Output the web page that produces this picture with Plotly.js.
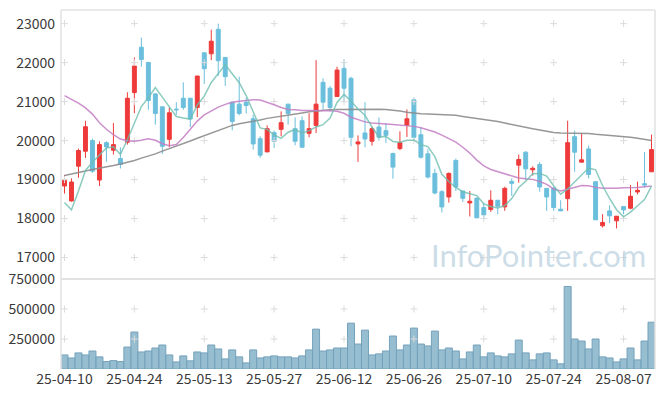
<!DOCTYPE html>
<html><head><meta charset="utf-8">
<script src="https://cdn.plot.ly/plotly-3.0.1.min.js"></script>
<style>html,body{margin:0;padding:0;background:#fff;}#chart{width:665px;height:396px;}</style>
</head><body><div id="chart"></div>
<script>
const dates = ['25-04-10','25-04-11','25-04-14','25-04-15','25-04-16','25-04-17','25-04-18','25-04-21','25-04-22','25-04-23',
'25-04-24','25-04-25','25-04-28','25-04-29','25-04-30','25-05-02','25-05-07','25-05-08','25-05-09','25-05-12',
'25-05-13','25-05-14','25-05-15','25-05-16','25-05-19','25-05-20','25-05-21','25-05-22','25-05-23','25-05-26',
'25-05-27','25-05-28','25-05-29','25-05-30','25-06-02','25-06-04','25-06-05','25-06-09','25-06-10','25-06-11',
'25-06-12','25-06-13','25-06-16','25-06-17','25-06-18','25-06-19','25-06-20','25-06-23','25-06-24','25-06-25',
'25-06-26','25-06-27','25-06-30','25-07-01','25-07-02','25-07-03','25-07-04','25-07-07','25-07-08','25-07-09',
'25-07-10','25-07-11','25-07-14','25-07-15','25-07-16','25-07-17','25-07-18','25-07-21','25-07-22','25-07-23',
'25-07-24','25-07-25','25-07-28','25-07-29','25-07-30','25-07-31','25-08-01','25-08-04','25-08-05','25-08-06',
'25-08-07','25-08-08','25-08-11','25-08-12','25-08-13'];

const openP = [18835,18452,19345,19727,20000,18988,19948,19753,19540,19957,
21232,22396,22005,21198,20866,20033,20807,21087,21087,20850,
22252,22227,22855,22133,20985,20935,20985,20560,20050,19710,
20204,20289,20935,20306,20510,20186,20390,21495,21343,21130,
21852,21597,19915,20195,19983,20348,20255,19668,19796,20390,
21045,20152,19660,19158,18690,18555,19490,18707,18401,18520,
18282,18231,18470,18299,18954,19370,19702,19250,19387,18775,
18775,18240,18512,20101,19447,19787,18946,17815,18197,17942,
18308,18265,18682,18895,19200];
const highP = [19115,19030,19795,20510,20050,19982,19982,20450,19830,21240,
22133,22643,22005,21220,20866,20850,20985,21495,21087,21657,
22252,22847,23000,22133,20985,21640,21105,20663,20110,20390,
20255,20748,20935,20595,20620,20705,22065,21597,21402,21895,
22082,21640,20135,20985,20357,20595,20450,19693,20238,20800,
21105,20340,19778,19277,18733,19183,19540,18707,18707,18554,
18401,18724,18470,18818,19030,19642,19727,19341,19447,18775,
18810,18470,20510,20255,20195,19872,18946,18112,18342,18061,
18308,18860,18946,19710,20152];
const lowP = [18640,18435,19047,19557,19175,18835,19455,19642,19285,19897,
20705,21895,20790,20407,19660,19830,20662,20790,20348,20603,
21453,22065,21657,21402,20263,20645,20697,19770,19558,19710,
19813,20110,20408,19880,19813,20085,20195,20790,20747,21130,
20985,19855,19455,19830,19872,19999,19940,19022,19753,20093,
19999,19540,19030,18622,18155,18410,18707,18427,18053,18019,
17993,18172,18112,18197,18580,18920,18988,19103,18690,18197,
18197,18197,18197,19200,19447,19030,17968,17772,17883,17747,
18112,18240,18622,18792,19200];
const closeP = [18980,18937,19745,20356,19217,19897,19838,19897,19387,21087,
21912,22082,21028,20697,19855,20714,20790,20850,20552,21657,
21844,22550,22048,21640,20492,20697,20900,19915,19625,20306,
19983,20460,20697,19983,19830,20306,20935,20985,20850,21810,
21343,20084,19966,20042,20306,20084,20136,19320,19948,20560,
20084,19574,19064,18656,18299,19158,18810,18520,18444,18019,
18095,18470,18316,18775,18903,19515,19277,19290,18810,18555,
18282,18197,19948,19702,19507,19132,17968,17900,18070,18061,
18223,18572,18725,18860,19770];
const volume = [117000,92000,134000,117000,150000,101000,62000,70000,62000,183000,
308000,142000,150000,175000,200000,117000,59000,109000,68000,142000,
134000,200000,167000,84000,159000,101000,51000,159000,92000,101000,
109000,101000,101000,92000,109000,159000,332000,150000,159000,175000,
175000,382000,208000,324000,117000,126000,150000,275000,159000,200000,
341000,208000,192000,316000,159000,175000,150000,84000,142000,200000,
101000,134000,109000,101000,126000,241000,134000,76000,126000,134000,
76000,43000,688000,250000,233000,167000,250000,101000,92000,59000,
84000,175000,76000,233000,390000];
const ma5 = [18410,18223,18707,19235,19447,19630,19811,19841,19647,20021,
20424,20873,21099,21361,21115,20875,20617,20581,20552,20913,
21139,21491,21730,21948,21715,21485,21155,20729,20326,20289,
20146,20058,20214,20286,20191,20255,20350,20408,20581,20977,
21185,21014,20811,20649,20348,20096,20107,19978,19959,20010,
20010,19897,19846,19588,19135,18950,18797,18689,18646,18590,
18378,18310,18269,18335,18512,18796,18957,19152,19159,19089,
18843,18627,18758,18937,19127,19297,19251,18842,18515,18226,
18044,18165,18330,18488,18830];
const ma20 = [21155,21060,20960,20840,20680,20460,20290,20150,20040,19995,
19983,20010,20050,20010,19920,19870,19900,20080,20300,20500,
20660,20770,20860,20930,20985,21010,21036,21050,21040,20990,
20920,20850,20800,20790,20770,20770,20770,20773,20765,20750,
20700,20600,20540,20480,20450,20430,20425,20410,20395,20385,
20365,20330,20280,20220,20140,20060,19960,19830,19680,19500,
19350,19260,19200,19150,19080,19040,19020,19005,18950,18878,
18760,18710,18750,18800,18850,18840,18800,18780,18775,18780,
18790,18792,18800,18815,18835];
const ma60 = [19107,19140,19180,19220,19260,19290,19320,19360,19400,19440,
19490,19550,19600,19660,19730,19790,19850,19920,19990,20060,
20130,20200,20260,20320,20390,20430,20460,20500,20530,20570,
20595,20625,20650,20680,20710,20740,20760,20780,20790,20800,
20803,20805,20807,20807,20807,20805,20795,20780,20760,20730,
20705,20690,20680,20675,20672,20668,20650,20620,20595,20575,
20550,20520,20490,20450,20410,20370,20335,20305,20270,20240,
20205,20195,20195,20195,20195,20180,20160,20145,20135,20120,
20110,20085,20060,20030,20000];
const xTickLabels = ['25-04-10','25-04-24','25-05-13','25-05-27','25-06-12','25-06-26','25-07-10','25-07-24','25-08-07'];
const priceTicks = [17000,18000,19000,20000,21000,22000,23000];
const volumeTicks = [250000,500000,750000];

const RED = '#ee3a3a', BLUE = '#6bbfdc';
const tickFont = {family: 'Noto Sans CJK KR, Noto Sans, sans-serif', size: 14, color: '#3a3a3a'};

// grid crosses at tick intersections
const gx = [], gy = [], gx2 = [], gy2 = [];
xTickLabels.forEach(t => {
  priceTicks.forEach(p => { gx.push(t); gy.push(p); });
  volumeTicks.slice(0, 2).forEach(v => { gx2.push(t); gy2.push(v); });
});
const crossMarker = {symbol: 'cross-thin', size: 5, color: '#dcdcdc', line: {color: '#dcdcdc', width: 1}};

const traces = [
  {type: 'scatter', x: gx, y: gy, xaxis: 'x', yaxis: 'y', mode: 'markers', marker: crossMarker, hoverinfo: 'skip', showlegend: false},
  {type: 'scatter', x: gx2, y: gy2, xaxis: 'x', yaxis: 'y2', mode: 'markers', marker: crossMarker, hoverinfo: 'skip', showlegend: false},
  {type: 'candlestick', x: dates, open: openP, high: highP, low: lowP, close: closeP, xaxis: 'x', yaxis: 'y',
   increasing: {line: {color: RED, width: 1}, fillcolor: RED},
   decreasing: {line: {color: BLUE, width: 1}, fillcolor: BLUE},
   whiskerwidth: 0, showlegend: false, hoverinfo: 'none'},
  {type: 'scatter', mode: 'lines', x: dates, y: ma60, xaxis: 'x', yaxis: 'y', line: {color: 'rgba(140,140,140,0.9)', width: 1.5}, showlegend: false},
  {type: 'scatter', mode: 'lines', x: dates, y: ma20, xaxis: 'x', yaxis: 'y', line: {color: 'rgba(195,125,195,0.85)', width: 1.5}, showlegend: false},
  {type: 'scatter', mode: 'lines', x: dates, y: ma5, xaxis: 'x', yaxis: 'y', line: {color: 'rgba(110,190,175,0.8)', width: 1.5}, showlegend: false},
  {type: 'bar', x: dates, y: volume, xaxis: 'x', yaxis: 'y2',
   marker: {color: 'rgba(140,182,203,0.9)', line: {color: '#74a2bb', width: 1}}, showlegend: false}
];

const split = (369 - 279) / 359;
const frameColor = '#e2e2e2';
const layout = {
  width: 665, height: 396,
  margin: {l: 61, r: 10, t: 10, b: 27, pad: 0},
  paper_bgcolor: '#fff', plot_bgcolor: '#fff',
  showlegend: false, boxgap: 0.2, bargap: 0,
  xaxis: {type: 'category', categoryorder: 'array', categoryarray: dates, range: [-0.5, 84.5],
    anchor: 'y2', rangeslider: {visible: false}, showgrid: false, zeroline: false, showline: false,
    tickmode: 'array', tickvals: xTickLabels, ticktext: xTickLabels, ticks: '', tickfont: tickFont, tickangle: 0},
  yaxis: {domain: [split, 1], range: [16450, 23350], showgrid: false, zeroline: false, showline: false,
    tickmode: 'array', tickvals: priceTicks, ticktext: priceTicks.map(String), ticks: '', tickfont: tickFont, ticklabelstandoff: 5},
  yaxis2: {domain: [0, split], range: [0, 750000], showgrid: false, zeroline: false, showline: false,
    tickmode: 'array', tickvals: volumeTicks, ticktext: volumeTicks.map(String), ticks: '', tickfont: tickFont, ticklabelstandoff: 5},
  shapes: [
    {type: 'line', xref: 'paper', yref: 'paper', x0: 0, x1: 0, y0: 0, y1: 1, line: {color: frameColor, width: 1.5}},
    {type: 'line', xref: 'paper', yref: 'paper', x0: 0, x1: 1, y0: 1, y1: 1, line: {color: frameColor, width: 1.5}},
    {type: 'line', xref: 'paper', yref: 'paper', x0: 1, x1: 1, y0: 0, y1: 1, line: {color: frameColor, width: 1.5}},
    {type: 'line', xref: 'paper', yref: 'paper', x0: 0, x1: 1, y0: split, y1: split, line: {color: frameColor, width: 2}}
  ],
  annotations: [
    {text: 'InfoPointer.com', xref: 'paper', yref: 'paper', x: 0.988, y: (369 - 255) / 359,
     xanchor: 'right', yanchor: 'middle', showarrow: false,
     font: {family: 'Lato, sans-serif', size: 31, color: 'rgba(175,202,218,0.65)'}}
  ]
};
Plotly.newPlot('chart', traces, layout, {displayModeBar: false, staticPlot: true});
</script>
</body></html>
